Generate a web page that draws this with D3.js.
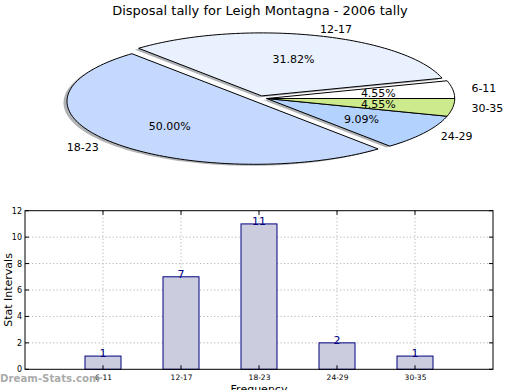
<!DOCTYPE html>
<html><head><meta charset="utf-8">
<script src="https://cdn.jsdelivr.net/npm/d3@7"></script>
<style>body{margin:0;background:#fff}svg{display:block;font-family:"DejaVu Sans",sans-serif}</style>
</head><body>
<svg id="c" width="520" height="390"></svg>
<script>
const title = "Disposal tally for Leigh Montagna - 2006 tally";
const categories = ["6-11","12-17","18-23","24-29","30-35"];
const counts = [1,7,11,2,1];
const pieColors = ["#ffffff","#eaf1fe","#c5d9fe","#b3d3fe","#cdea8c"];
const yTicks = [0,2,4,6,8,10,12];
const yLabel = "Stat Intervals";
const xLabel = "Frequency";
const watermark = "Dream-Stats.com";

const svg = d3.select("#c");
svg.append("rect").attr("width",520).attr("height",390).attr("fill","#fff");

// Title
svg.append("text").attr("x",260).attr("y",15).attr("text-anchor","middle")
  .attr("font-size",13).attr("fill","#000").text(title);

// ---------- Pie (elliptical, counterclockwise from east) ----------
const cx = 266.7, cy = 98.5, rx = 188, ry = 63;
const offsets = {"12-17":[-5,-2.6],"18-23":[-11.7,2.8]};
const total = d3.sum(counts);
const pie = d3.pie().sort(null).value(d=>d.v).startAngle(Math.PI/2).endAngle(Math.PI/2 - 2*Math.PI);
const arcs = pie(categories.map((c,i)=>({c, v:counts[i], col:pieColors[i]})));
const line = d3.line();
function wedgePath(d, ox, oy){
  const pts = [[ox,oy]];
  const n = Math.max(8, Math.ceil(Math.abs(d.endAngle-d.startAngle)*40));
  for(let k=0;k<=n;k++){
    const a = d.startAngle + (d.endAngle-d.startAngle)*k/n;
    pts.push([ox + rx*Math.sin(a), oy - ry*Math.cos(a)]);
  }
  return line(pts)+"Z";
}
const gPie = svg.append("g");
arcs.forEach(d=>{
  const o = offsets[d.data.c]||[0,0];
  gPie.append("path").attr("d", wedgePath(d, cx+o[0]-3.5, cy+o[1]+1.5))
    .attr("fill","#6f737a").attr("fill-opacity",0.55).attr("stroke","none");
});
arcs.forEach(d=>{
  const o = offsets[d.data.c]||[0,0];
  gPie.append("path").attr("d", wedgePath(d, cx+o[0], cy+o[1]))
    .attr("fill", d.data.col).attr("stroke","#000").attr("stroke-width",1).attr("stroke-linejoin","round");
});
arcs.forEach(d=>{
  const o = offsets[d.data.c]||[0,0];
  const m = (d.startAngle+d.endAngle)/2;
  const ux = Math.sin(m), uy = Math.cos(m);
  const lx = cx+o[0]+1.1*rx*ux, ly = cy+o[1]-1.1*ry*uy;
  gPie.append("text").attr("x",lx).attr("y",ly).attr("dy","0.35em")
    .attr("text-anchor", ux>0?"start":"end").attr("font-size",11).attr("fill","#000").text(d.data.c);
  const px = cx+o[0]+0.6*rx*ux, py = cy+o[1]-0.6*ry*uy;
  gPie.append("text").attr("x",px).attr("y",py).attr("dy","0.35em")
    .attr("text-anchor","middle").attr("font-size",11).attr("fill","#000")
    .text((d.data.v/total*100).toFixed(2)+"%");
});

// ---------- Bar chart ----------
const L=25, R=493, T=210.7, B=369.3;
const x = d3.scaleLinear().domain([-1,5]).range([L,R]);
const y = d3.scaleLinear().domain([0,12]).range([B,T]);
const g = svg.append("g");
g.selectAll(".gy").data(yTicks.slice(1,-1)).enter().append("line")
  .attr("x1",L).attr("x2",R).attr("y1",d=>y(d)).attr("y2",d=>y(d))
  .attr("stroke","#b5b5b5").attr("stroke-dasharray","1.2,2.3");
g.selectAll(".gx").data(categories).enter().append("line")
  .attr("x1",(d,i)=>x(i)).attr("x2",(d,i)=>x(i)).attr("y1",T).attr("y2",B)
  .attr("stroke","#b5b5b5").attr("stroke-dasharray","1.2,2.3");
const bw = x(0.4615)-x(0);
g.selectAll(".bar").data(counts).enter().append("rect")
  .attr("x",(d,i)=>x(i)-bw/2).attr("width",bw)
  .attr("y",d=>y(d)).attr("height",d=>B-y(d))
  .attr("fill","#ccccdf").attr("stroke","#000080").attr("stroke-width",1);
g.selectAll(".vl").data(counts).enter().append("text")
  .attr("x",(d,i)=>x(i)).attr("y",d=>y(d)+1).attr("text-anchor","middle")
  .attr("font-size",11).attr("fill","#000080").text(d=>d);
g.append("rect").attr("x",L).attr("y",T).attr("width",R-L).attr("height",B-T)
  .attr("fill","none").attr("stroke","#000").attr("stroke-width",1);
const yAxis = d3.axisLeft(y).tickValues(yTicks).tickSize(0).tickPadding(3);
const ya = svg.append("g").attr("transform",`translate(${L},0)`).call(yAxis);
ya.select(".domain").remove();
ya.selectAll("text").attr("font-size",8).attr("font-family","DejaVu Sans").attr("fill","#000");
const xAxis = d3.axisBottom(x).tickValues(d3.range(categories.length)).tickFormat(i=>categories[i]).tickSize(0).tickPadding(5);
const xa = svg.append("g").attr("transform",`translate(0,${B})`).call(xAxis);
xa.select(".domain").remove();
xa.selectAll("text").attr("font-size",7.5).attr("font-family","DejaVu Sans").attr("fill","#000");
yTicks.forEach(t=>{
  g.append("line").attr("x1",L).attr("x2",L+4).attr("y1",y(t)).attr("y2",y(t)).attr("stroke","#000");
  g.append("line").attr("x1",R).attr("x2",R-4).attr("y1",y(t)).attr("y2",y(t)).attr("stroke","#000");
});
categories.forEach((c,i)=>{
  g.append("line").attr("x1",x(i)).attr("x2",x(i)).attr("y1",B).attr("y2",B-4).attr("stroke","#000");
  g.append("line").attr("x1",x(i)).attr("x2",x(i)).attr("y1",T).attr("y2",T+4).attr("stroke","#000");
});
svg.append("text").attr("transform",`translate(8,${(T+B)/2}) rotate(-90)`).attr("text-anchor","middle")
  .attr("dy","0.35em").attr("font-size",11).attr("fill","#000").text(yLabel);
svg.append("text").attr("x",259).attr("y",393).attr("text-anchor","middle")
  .attr("font-size",11).attr("fill","#000").text(xLabel);
svg.append("text").attr("x",0).attr("y",381.5).attr("font-size",10.2).attr("font-weight","bold")
  .attr("fill","#a0a0a0").attr("fill-opacity",0.9).text(watermark);
</script>
</body></html>
